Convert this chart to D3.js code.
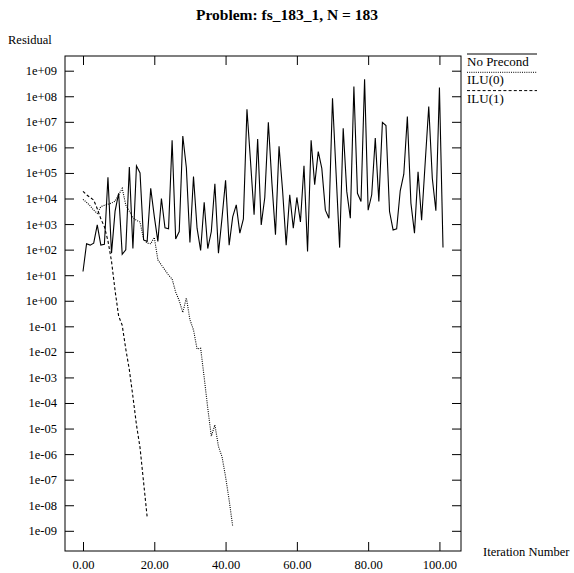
<!DOCTYPE html>
<html>
<head>
<meta charset="utf-8">
<script src="https://cdn.jsdelivr.net/npm/d3@7"></script>
<style>
  body { margin: 0; background: #fff; }
  svg { display: block; }
  text { font-family: "Liberation Serif", "Times New Roman", serif; fill: #000; }
</style>
</head>
<body>
<svg id="chart" width="574" height="573"></svg>
<script>
// Residual history per iteration (index = iteration number)
const chartTitle = "Problem: fs_183_1, N = 183";
const seriesNames = ["No Precond", "ILU(0)", "ILU(1)"];

const noPrecond = [
  1.4e1, 1.7e2, 1.5e2, 1.8e2, 9.3e2, 1.5e2, 1.6e2, 6.8e4, 7.2e1, 3.2e3,
  1.6e4, 6.6e1, 9.8e1, 1.7e5, 1.1e2, 1.9e5, 1.0e5, 2.4e2, 2.1e2, 2.5e4,
  2.0e3, 2.1e2, 1.0e4, 7.2e2, 6.5e2, 1.9e6, 2.6e2, 5.1e2, 2.8e6, 1.6e5,
  1.9e2, 7.2e4, 6.9e2, 9.3e1, 7.1e3, 1.1e2, 5.1e2, 3.8e4, 7.2e1, 1.7e3,
  5.2e4, 1.5e2, 1.9e3, 5.6e3, 4.4e2, 1.6e3, 3.1e7, 2.8e5, 2.3e3, 2.1e6,
  9.3e2, 1.1e4, 9.5e6, 4.0e4, 3.8e2, 1.1e6, 2.0e4, 1.5e2, 1.4e4, 6.9e2,
  1.1e4, 1.2e3, 1.9e5, 8.5e1, 1.9e6, 3.5e4, 6.8e5, 1.5e5, 3.5e3, 1.7e3,
  8.3e7, 1.0e5, 1.2e2, 5.6e6, 1.9e4, 1.7e3, 2.4e8, 1.6e4, 7.6e3, 4.6e8,
  3.5e3, 1.4e4, 2.3e6, 7.6e3, 9.5e6, 7.1e6, 3.1e3, 5.9e2, 6.5e2, 2.0e4,
  8.9e4, 1.6e7, 6.6e3, 4.4e2, 1.1e5, 1.4e3, 2.5e5, 4.0e7, 6.2e4, 3.3e3,
  2.2e8, 1.2e2
];

const ilu0 = [
  9.3e3, 7.1e3, 5.2e3, 3.5e3, 2.6e3, 4.8e3, 5.4e3, 6.0e3, 6.6e3, 7.9e3,
  1.4e4, 2.5e4, 5.6e3, 3.2e3, 1.8e3, 1.4e3, 1.2e3, 2.6e2, 1.8e2, 1.7e2,
  3.0e2, 4.0e1, 2.5e1, 1.6e1, 1.0e1, 7.1e0, 2.2e0, 1.0e0, 3.5e-1, 1.3e0,
  1.8e-1, 7.2e-2, 1.3e-2, 1.4e-2, 1.0e-3, 6.3e-5, 5.0e-6, 1.4e-5, 2.0e-6, 7.9e-7,
  1.3e-7, 1.6e-8, 1.5e-9
];

const ilu1 = [
  1.9e4, 1.4e4, 1.1e4, 8.7e3, 4.0e3, 1.6e3, 7.9e2, 2.2e2, 3.5e1, 2.5e0,
  2.5e-1, 1.1e-1, 1.3e-2, 2.0e-3, 1.8e-4, 1.4e-5, 1.8e-6, 7.9e-8, 3.5e-9
];

const xTickValues = [0, 20, 40, 60, 80, 100];
const yTickExponents = [-9, -8, -7, -6, -5, -4, -3, -2, -1, 0, 1, 2, 3, 4, 5, 6, 7, 8, 9];

const svg = d3.select("#chart");
const box = { left: 65, right: 461, top: 56, bottom: 551 };

const x = d3.scaleLinear().domain([-5.05, 106.05]).range([box.left, box.right]);
const y = d3.scaleLog()
  .domain([Math.pow(10, -9.79), Math.pow(10, 9.575)])
  .range([box.bottom, box.top]);

const yTicks = yTickExponents.map(e => Math.pow(10, e));
const expLabel = d => {
  const e = Math.round(Math.log10(d));
  const s = String(Math.abs(e)).padStart(2, "0");
  return "1e" + (e < 0 ? "-" : "+") + s;
};

const fontSize = "12.5px";

// Axes: ticks point inward on all four sides
const gBottom = svg.append("g").attr("transform", `translate(0,${box.bottom})`)
  .call(d3.axisBottom(x).tickValues(xTickValues).tickFormat(d3.format(".2f"))
    .tickSizeInner(-9).tickSizeOuter(0).tickPadding(9));
const gTop = svg.append("g").attr("transform", `translate(0,${box.top})`)
  .call(d3.axisTop(x).tickValues(xTickValues).tickFormat("")
    .tickSizeInner(-9).tickSizeOuter(0));
const gLeft = svg.append("g").attr("transform", `translate(${box.left},0)`)
  .call(d3.axisLeft(y).tickValues(yTicks).tickFormat(expLabel)
    .tickSizeInner(-9).tickSizeOuter(0).tickPadding(8));
const gRight = svg.append("g").attr("transform", `translate(${box.right},0)`)
  .call(d3.axisRight(y).tickValues(yTicks).tickFormat("")
    .tickSizeInner(-9).tickSizeOuter(0));

[gBottom, gTop, gLeft, gRight].forEach(g => {
  g.select(".domain").remove();
  g.selectAll(".tick line").attr("stroke", "#000").attr("stroke-width", 1);
  g.selectAll(".tick text")
    .style("font-family", '"Liberation Serif", "Times New Roman", serif')
    .style("font-size", fontSize)
    .attr("fill", "#000");
});

// Plot frame
svg.append("rect")
  .attr("x", box.left).attr("y", box.top)
  .attr("width", box.right - box.left).attr("height", box.bottom - box.top)
  .attr("fill", "none").attr("stroke", "#000").attr("stroke-width", 1);

// Series lines
const line = d3.line().x((d, i) => x(i)).y(d => y(d));
const styles = [
  { data: noPrecond, dash: null, width: 1.1 },
  { data: ilu0, dash: "1,1.2", width: 1.1 },
  { data: ilu1, dash: "3,2.2", width: 1.1 }
];
styles.forEach(s => {
  svg.append("path")
    .datum(s.data)
    .attr("d", line)
    .attr("fill", "none")
    .attr("stroke", "#000")
    .attr("stroke-width", s.width)
    .attr("stroke-dasharray", s.dash);
});

// Legend: a line sample above each series name
const legendX = 467, legendLen = 70, legendY0 = 54, legendStep = 18.3;
seriesNames.forEach((name, i) => {
  const ly = legendY0 + i * legendStep;
  svg.append("line")
    .attr("x1", legendX).attr("x2", legendX + legendLen)
    .attr("y1", ly).attr("y2", ly)
    .attr("stroke", "#000").attr("stroke-width", 1)
    .attr("stroke-dasharray", styles[i].dash);
  svg.append("text")
    .attr("x", legendX).attr("y", ly + 12)
    .style("font-size", "13px")
    .text(name);
});

// Titles
svg.append("text")
  .attr("x", 287).attr("y", 20)
  .attr("text-anchor", "middle")
  .style("font-size", "15.5px").style("font-weight", "bold")
  .text(chartTitle);
svg.append("text")
  .attr("x", 8).attr("y", 44)
  .style("font-size", fontSize)
  .text("Residual");
svg.append("text")
  .attr("x", 483).attr("y", 556)
  .style("font-size", fontSize)
  .text("Iteration Number");
</script>
</body>
</html>
